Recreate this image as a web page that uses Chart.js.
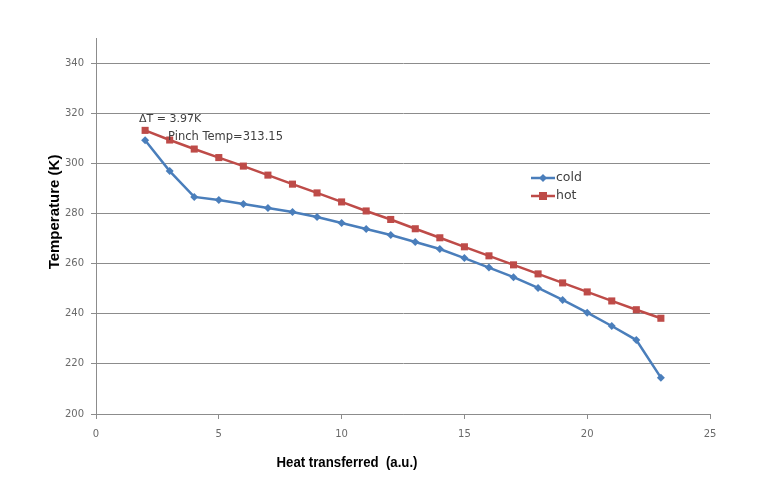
<!DOCTYPE html>
<html>
<head>
<meta charset="utf-8">
<script src="https://cdn.jsdelivr.net/npm/chart.js@4"></script>
<style>
  html, body { margin: 0; padding: 0; background: #fff; }
  #wrap { width: 783px; height: 486px; }
</style>
</head>
<body>
<div id="wrap"><canvas id="myChart" width="783" height="486"></canvas></div>
<script>
// heat transferred (a.u.)
const heat = [2, 3, 4, 5, 6, 7, 8, 9, 10, 11, 12, 13, 14, 15, 16, 17, 18, 19, 20, 21, 22, 23];
// temperatures (K)
const cold = [309.2, 296.9, 286.6, 285.4, 283.8, 282.2, 280.6, 278.6, 276.2, 273.8, 271.4, 268.6,
  265.8, 262.2, 258.4, 254.6, 250.3, 245.5, 240.4, 235.1, 229.5, 214.5];
const hot = [313.15, 309.3, 305.7, 302.3, 298.9, 295.3, 291.7, 288.2, 284.6, 281.0, 277.6, 273.9,
  270.3, 266.7, 263.1, 259.5, 255.9, 252.3, 248.7, 245.1, 241.6, 238.2];
const yTicks = [200, 220, 240, 260, 280, 300, 320, 340];

const BLUE = "#4a7ebb";
const RED = "#be4b48";
const FONT = "'DejaVu Sans', sans-serif";

const toPoints = (ys) => heat.map((x, i) => ({ x: x, y: ys[i] }));

// axis titles, annotations and the in-plot legend
const extras = {
  id: "extras",
  afterDraw(chart) {
    const c = chart.ctx;
    c.save();
    c.fillStyle = "#000";
    c.textAlign = "center";
    c.textBaseline = "middle";
    c.font = "bold 15px 'Liberation Sans', sans-serif";
    c.fillText("Heat transferred  (a.u.)", 347, 463, 141);
    c.translate(55, 212);
    c.rotate(-Math.PI / 2);
    c.fillText("Temperature (K)", 0, 0, 117);
    c.restore();

    c.save();
    c.fillStyle = "#404040";
    c.textBaseline = "middle";
    c.font = "11px " + FONT;
    c.fillText("\u0394T = 3.97K", 139, 119);
    c.font = "11.5px " + FONT;
    c.fillText("Pinch Temp=313.15", 168, 137);

    // legend
    const items = [
      { label: "cold", color: BLUE, y: 178, shape: "d" },
      { label: "hot", color: RED, y: 196, shape: "s" }
    ];
    items.forEach((it) => {
      c.strokeStyle = it.color;
      c.lineWidth = 2.5;
      c.beginPath();
      c.moveTo(531, it.y);
      c.lineTo(555, it.y);
      c.stroke();
      c.fillStyle = it.color;
      c.beginPath();
      if (it.shape === "d") {
        c.moveTo(543, it.y - 4);
        c.lineTo(547, it.y);
        c.lineTo(543, it.y + 4);
        c.lineTo(539, it.y);
        c.closePath();
      } else {
        c.rect(539, it.y - 4, 8, 8);
      }
      c.fill();
      c.fillStyle = "#404040";
      c.font = "12.5px " + FONT;
      c.fillText(it.label, 556, it.y);
    });
    c.restore();
  }
};

new Chart(document.getElementById("myChart"), {
  type: "line",
  data: {
    datasets: [
      {
        label: "cold",
        data: toPoints(cold),
        borderColor: BLUE,
        backgroundColor: BLUE,
        borderWidth: 2.5,
        pointStyle: "rectRot",
        pointRadius: 4,
        pointBorderWidth: 0,
        tension: 0
      },
      {
        label: "hot",
        data: toPoints(hot),
        borderColor: RED,
        backgroundColor: RED,
        borderWidth: 2.5,
        pointStyle: "rect",
        pointRadius: 5,
        pointBorderWidth: 0,
        tension: 0
      }
    ]
  },
  options: {
    responsive: false,
    animation: false,
    layout: { padding: { top: 38, right: 73, left: 0, bottom: 0 } },
    plugins: {
      legend: { display: false },
      tooltip: { enabled: false }
    },
    scales: {
      x: {
        type: "linear",
        min: 0,
        max: 25,
        afterFit(scale) { scale.height = 72; },
        ticks: { stepSize: 5, color: "#6a6a6a", font: { family: FONT, size: 10 }, padding: 9, maxRotation: 0 },
        grid: { drawOnChartArea: false, drawTicks: true, tickLength: 5, color: "#8c8c8c" },
        border: { display: true, color: "#8c8c8c" }
      },
      y: {
        min: 200,
        max: 350,
        afterFit(scale) { scale.width = 96; },
        afterBuildTicks(scale) { scale.ticks = yTicks.map((v) => ({ value: v })); },
        ticks: { color: "#6a6a6a", font: { family: FONT, size: 10 }, padding: 7 },
        grid: { color: "#8c8c8c", tickLength: 5 },
        border: { display: true, color: "#8c8c8c" }
      }
    }
  },
  plugins: [extras]
});
</script>
</body>
</html>
